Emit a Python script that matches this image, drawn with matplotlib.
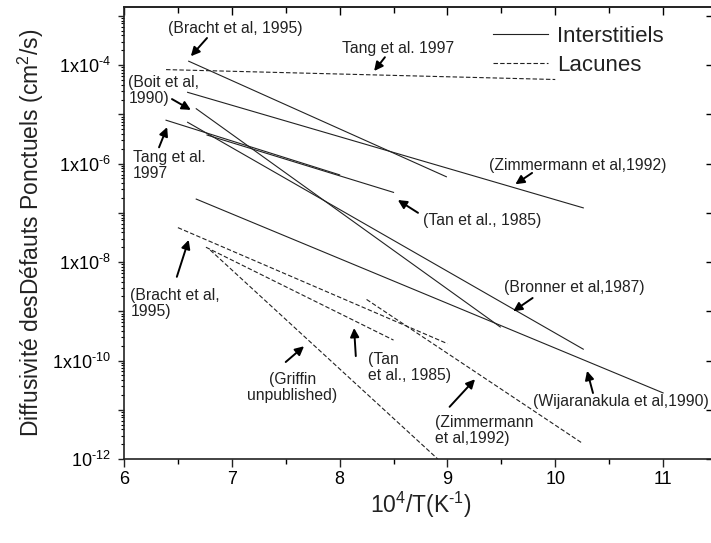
import numpy as np
import matplotlib
matplotlib.use("Agg")
import matplotlib.pyplot as plt
from matplotlib.ticker import FixedLocator, FuncFormatter, LogLocator, NullFormatter, MultipleLocator

plt.rcParams['font.family'] = ['Liberation Sans', 'DejaVu Sans']
plt.rcParams['mathtext.fontset'] = 'custom'
plt.rcParams['mathtext.rm'] = 'Liberation Sans'
plt.rcParams['mathtext.it'] = 'Liberation Sans'

# interstitiels (traits pleins) : extremites x = 1e4/T, D en cm2/s
bracht_i_x = [6.60, 8.99]
bracht_i_d = [1.2e-4, 5.4e-7]
zimmer_i_x = [6.59, 10.26]
zimmer_i_d = [2.8e-5, 1.26e-7]
boit_i_x = [6.67, 9.49]
boit_i_d = [1.3e-5, 4.8e-10]
bronner_i_x = [6.59, 10.26]
bronner_i_d = [6.9e-6, 1.7e-10]
tang_i_x = [6.39, 8.00]
tang_i_d = [7.6e-6, 5.9e-7]
tan_i_x = [6.77, 8.50]
tan_i_d = [3.8e-6, 2.6e-7]
wijar_i_x = [6.67, 11.00]
wijar_i_d = [1.9e-7, 2.2e-11]

# lacunes (pointilles)
tang_v_x = [6.39, 10.00]
tang_v_d = [8.1e-5, 5.1e-5]
bracht_v_x = [6.50, 9.00]
bracht_v_d = [5.0e-8, 2.2e-10]
tan_v_x = [6.76, 8.50]
tan_v_d = [2.0e-8, 2.6e-10]
griffin_v_x = [6.80, 8.91]
griffin_v_d = [1.75e-8, 1.0e-12]
zimmer_v_x = [8.25, 10.25]
zimmer_v_d = [1.74e-9, 2.1e-12]

interstitiels = [(bracht_i_x, bracht_i_d), (zimmer_i_x, zimmer_i_d), (boit_i_x, boit_i_d),
                 (bronner_i_x, bronner_i_d), (tang_i_x, tang_i_d), (tan_i_x, tan_i_d),
                 (wijar_i_x, wijar_i_d)]
lacunes = [(tang_v_x, tang_v_d), (bracht_v_x, bracht_v_d), (tan_v_x, tan_v_d),
           (griffin_v_x, griffin_v_d), (zimmer_v_x, zimmer_v_d)]

fig = plt.figure(figsize=(7.11, 5.43), dpi=100)
ax = fig.add_axes([0.1744, 0.1547, 0.834, 0.8324])

for i, (x, d) in enumerate(interstitiels):
    ax.plot(x, d, color='#222222', lw=0.8, label='Interstitiels' if i == 0 else None)
for i, (x, d) in enumerate(lacunes):
    ax.plot(x, d, color='#222222', lw=0.8, ls=(0, (4, 2)), label='Lacunes' if i == 0 else None)

ax.set_yscale('log')
ax.set_xlim(6, 11.5)
ax.set_ylim(1e-12, 10**-2.82)

# annotations : texte (x, logD), ancrage, fleche (queue, pointe)
notes = [
    ("(Bracht et al, 1995)", (7.03, -3.25), 'center', 'center', (6.77, -3.45), (6.62, -3.82)),
    ("Tang et al. 1997", (8.54, -3.66), 'center', 'center', (8.42, -3.84), (8.32, -4.12)),
    ("(Boit et al,\n1990)", (6.04, -4.20), 'left', 'top', (6.445, -4.69), (6.62, -4.91)),
    ("Tang et al.\n1997", (6.08, -5.73), 'left', 'top', (6.325, -5.67), (6.40, -5.26)),
    ("(Zimmermann et al,1992)", (9.39, -6.03), 'left', 'center', (9.785, -6.19), (9.63, -6.42)),
    ("(Tan et al., 1985)", (8.77, -7.15), 'left', 'center', (8.727, -7.00), (8.54, -6.74)),
    ("(Bracht et al,\n1995)", (6.06, -8.53), 'left', 'top', (6.49, -8.30), (6.60, -7.55)),
    ("(Griffin\nunpublished)", (7.56, -10.23), 'center', 'top', (7.50, -10.03), (7.67, -9.71)),
    ("(Tan\net al., 1985)", (8.26, -9.83), 'left', 'top', (8.15, -9.91), (8.134, -9.34)),
    ("(Zimmermann\net al,1992)", (8.88, -11.11), 'left', 'top', (9.02, -10.94), (9.256, -10.38)),
    ("(Bronner et al,1987)", (9.52, -8.51), 'left', 'center', (9.79, -8.73), (9.61, -9.00)),
    ("(Wijaranakula et al,1990)", (9.79, -10.84), 'left', 'center', (10.35, -10.66), (10.295, -10.21)),
]
for txt, (tx, ty), ha, va, (ax0, ay0), (ax1, ay1) in notes:
    ax.text(tx, 10**ty, txt, ha=ha, va=va, fontsize=11.3, color='#222222', linespacing=1.1)
    ax.annotate('', xy=(ax1, 10**ay1), xytext=(ax0, 10**ay0),
                arrowprops=dict(arrowstyle='-|>', color='black', lw=1.4,
                                mutation_scale=13, shrinkA=0, shrinkB=0))

leg = ax.legend(loc='upper left', bbox_to_anchor=(0.622, 0.958), frameon=False,
                fontsize=16, handlelength=2.5, handletextpad=0.4, labelspacing=0.35,
                borderpad=0, borderaxespad=0)
for t in leg.get_texts():
    t.set_color('#222222')

# graduations
ax.xaxis.set_major_locator(MultipleLocator(1))
ax.xaxis.set_minor_locator(MultipleLocator(0.5))
ax.yaxis.set_major_locator(LogLocator(base=10, numticks=20))
ax.yaxis.set_minor_locator(LogLocator(base=10, subs=np.arange(2, 10), numticks=20))
ax.yaxis.set_minor_formatter(NullFormatter())

def ylab(v, pos):
    e = int(round(np.log10(v)))
    if e % 2:
        return ''
    if e == -12:
        return r'$\mathregular{10^{\text{-}12}}$'
    return r'$\mathregular{1x10^{\text{-}%d}}$' % (-e)

ax.yaxis.set_major_formatter(FuncFormatter(ylab))
ax.tick_params(axis='both', which='major', direction='out', labelsize=13, width=1.0, color='#222222')
ax.tick_params(axis='x', which='major', length=6, pad=3)
ax.tick_params(axis='x', which='minor', direction='out', length=3.5, width=1.0)
ax.tick_params(axis='y', which='major', length=4.5, pad=5)
ax.tick_params(axis='y', which='minor', direction='out', length=2.5, width=0.8)

top = ax.secondary_xaxis('top')
top.xaxis.set_major_locator(MultipleLocator(1))
top.xaxis.set_minor_locator(MultipleLocator(0.5))
top.tick_params(which='major', direction='in', length=6, width=1.0, labeltop=False)
top.tick_params(which='minor', direction='in', length=4.5, width=1.0)

right = ax.secondary_yaxis('right')
right.yaxis.set_major_locator(LogLocator(base=10, numticks=20))
right.yaxis.set_minor_locator(FixedLocator([]))
right.tick_params(which='major', direction='in', length=8, width=1.0, labelright=False)

for sp in list(ax.spines.values()) + [top.spines['top'], right.spines['right']]:
    sp.set_linewidth(1.2)
    sp.set_color('#222222')

ax.set_xlabel(r'$\mathregular{10^{4}/T(K^{\text{-}1})}$', fontsize=16.5, color='#222222', labelpad=1)
ax.set_ylabel(r'Diffusivité desDéfauts Ponctuels (cm$\mathregular{^2}$/s)', fontsize=16.5,
              color='#222222', labelpad=4)

plt.savefig("out.png", dpi=100)
